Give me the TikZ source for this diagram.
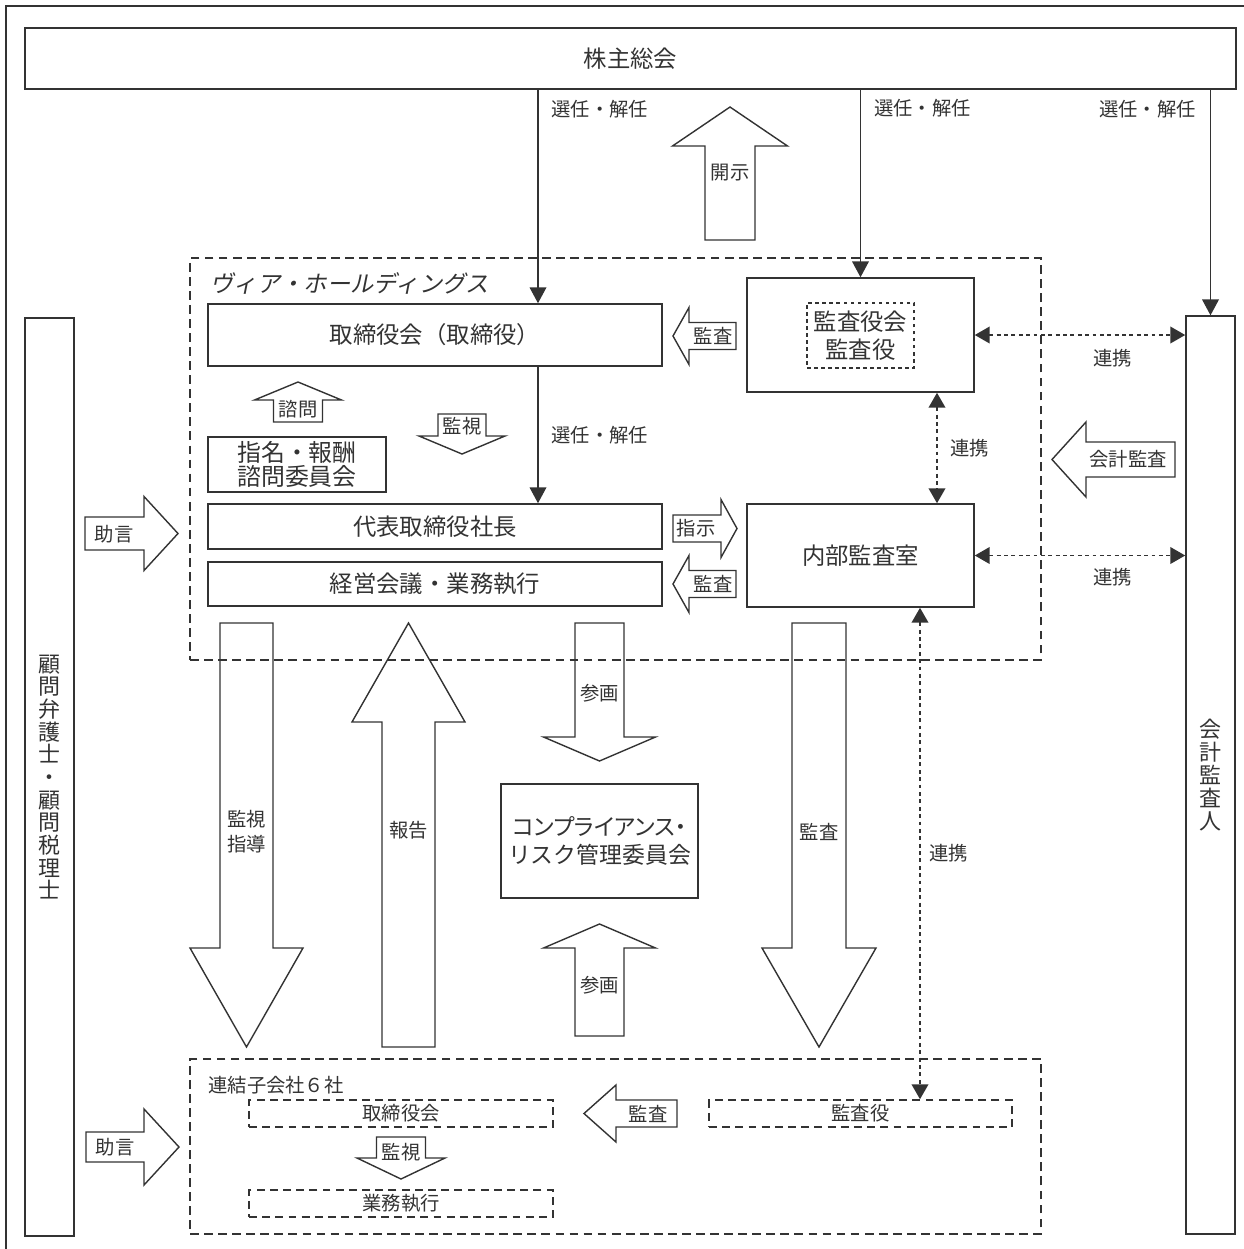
\documentclass[tikz,border=0pt]{standalone}
\usepackage{fontspec}
\setmainfont{Noto Sans CJK JP}
\newfontfamily\jpslant{Noto Sans CJK JP}[FakeSlant=0.2]
\usepackage{tikz}
\usetikzlibrary{arrows.meta,positioning}
\definecolor{ink}{gray}{0.2}
\newcommand{\bigjp}{\fontsize{13.3}{16}\selectfont}
\newcommand{\smalljp}{\fontsize{11}{14}\selectfont}
% block arrow: rotation, tail point, length, shaft half width, head half width, head length
\newcommand{\blockarr}[6]{%
  \draw[blk,shift={#2},rotate=#1] (0,-#4) -- ({#3-#6},-#4) -- ({#3-#6},-#5)
    -- (#3,0) -- ({#3-#6},#5) -- ({#3-#6},#4) -- (0,#4) -- cycle;}

\begin{document}
\begin{tikzpicture}[x=0.02cm,y=-0.02cm,color=ink,
  box/.style={draw,line width=0.9pt,inner sep=0pt,align=center,font=\bigjp},
  group/.style={draw,line width=0.9pt,dash pattern=on 5pt off 3pt},
  subbox/.style={draw,line width=0.9pt,dash pattern=on 4.5pt off 3pt,
    minimum width=6.08cm,minimum height=0.54cm,inner sep=0pt,font=\smalljp},
  blk/.style={draw,line width=0.8pt,line join=miter},
  lbl/.style={inner sep=0pt,font=\smalljp,align=center},
  sel/.style={-{Triangle[length=9pt,width=9.5pt]},line width=0.7pt},
  link/.style={{Triangle[length=8.5pt,width=9.5pt]}-{Triangle[length=8.5pt,width=9.5pt]},
    line width=1pt,dash pattern=on 2.2pt off 2pt}]
\useasboundingbox (0,0) rectangle (1244,1249);
\draw[line width=0.9pt] (6,1249) -- (6,6) -- (1244,6);

% groups
\node[group,minimum width=17.02cm,minimum height=8.04cm] (via) at (615.5,459) {};
\node[group,minimum width=17.02cm,minimum height=3.5cm] (subs) at (615.5,1146.5) {};
\node[anchor=west,inner sep=0pt,font={\jpslant\bigjp}] (viatitle) at (210,283)
  {ヴィア・ホールディングス};
\node[anchor=west,inner sep=0pt,font=\smalljp] (substitle) at (208,1085) {連結子会社６社};

% boxes
\node[box,minimum width=24.22cm,minimum height=1.22cm] (soukai) at (630.5,58.5) {株主総会};
\node[box,minimum width=0.98cm,minimum height=18.36cm,
      font={\fontsize{12.5}{12.9}\selectfont}] (komon) at (49.5,777)
  {顧\\問\\弁\\護\\士\\・\\顧\\問\\税\\理\\士};
\node[box,minimum width=0.98cm,minimum height=18.36cm,
      font={\fontsize{12.5}{13.15}\selectfont}] (auditor) at (1210.5,775)
  {会\\計\\監\\査\\人};
\node[box,minimum width=9.08cm,minimum height=1.24cm] (board) at (435,335) {取締役会（取締役）};
\node[box,minimum width=3.56cm,minimum height=1.1cm,
      font={\fontsize{13.6}{13.8}\selectfont}] (nomination) at (297,464.5)
  {指名・報酬\\諮問委員会};
\node[box,minimum width=9.08cm,minimum height=0.9cm] (president) at (435,526.5) {代表取締役社長};
\node[box,minimum width=9.08cm,minimum height=0.88cm] (mgmt) at (435,584) {経営会議・業務執行};
\node[box,minimum width=4.54cm,minimum height=2.28cm] (kansa) at (860.5,335) {};
\node[box,dash pattern=on 2pt off 2pt,minimum width=2.14cm,minimum height=1.3cm,
      font={\fontsize{13.3}{15.9}\selectfont}] (kansain) at (860.5,335.5)
  {監査役会\\監査役};
\node[box,minimum width=4.54cm,minimum height=2.06cm] (naibu) at (860.5,555.5) {内部監査室};
\node[box,minimum width=3.94cm,minimum height=2.28cm,
      font={\fontsize{13}{16.4}\selectfont}] (compliance) at (599.5,841)
  {{\addfontfeature{RawFeature=+palt}コンプライアンス・}\\リスク管理委員会};
\node[subbox] (subboard) at (401,1113.5) {取締役会};
\node[subbox] (subexec) at (401,1203.5) {業務執行};
\node[subbox,minimum width=6.06cm] (subaud) at (860.5,1113.5) {監査役};

% block arrows
\blockarr{90}{(730,240)}{133}{25}{57.5}{39}
\node[lbl] (kaiji) at (730,173) {開示};
\blockarr{90}{(298,422)}{40}{24.5}{43.5}{18}
\node[lbl] (shimon) at (298,409) {諮問};
\blockarr{-90}{(462,414)}{40}{24}{43}{18}
\node[lbl] (kanshi) at (462,426) {監視};
\blockarr{180}{(736,336)}{63}{13.5}{28.5}{16}
\node[lbl] (kansaA) at (713,336) {監査};
\blockarr{0}{(673,528.5)}{64}{13.5}{29}{16}
\node[lbl] (shiji) at (696,528.5) {指示};
\blockarr{180}{(736,584)}{63}{13.5}{28.5}{16}
\node[lbl] (kansaB) at (713,584) {監査};
\blockarr{180}{(1175,459.5)}{123}{17.5}{37.5}{34}
\node[lbl] (kaikei) at (1128,459.5) {会計監査};
\blockarr{0}{(85,533.5)}{93}{16.5}{37}{34}
\node[lbl] (jogenA) at (114,534) {助言};
\blockarr{0}{(86,1147)}{93}{15}{38}{35}
\node[lbl] (jogenB) at (115,1147) {助言};
\blockarr{-90}{(246.5,623)}{424}{26.5}{56.5}{99}
\node[lbl,font={\fontsize{11}{14.2}\selectfont}] (shidou) at (246.5,832) {監視\\指導};
\blockarr{90}{(408.5,1047)}{424}{26.5}{56.5}{99}
\node[lbl] (houkoku) at (408.5,830) {報告};
\blockarr{-90}{(599.5,623)}{138}{24.5}{56}{24}
\node[lbl] (sankakuA) at (599.5,693) {参画};
\blockarr{90}{(599.5,1036)}{112}{24.5}{56}{24}
\node[lbl] (sankakuB) at (599.5,985) {参画};
\blockarr{-90}{(819,623)}{424}{27}{57}{99}
\node[lbl] (kansaC) at (819,832) {監査};
\blockarr{180}{(677,1113.5)}{93}{13.5}{28.5}{32}
\node[lbl] (kansaD) at (648,1113.5) {監査};
\blockarr{-90}{(401,1137)}{42}{24.5}{44}{21}
\node[lbl] (kanshiB) at (401,1152) {監視};

% connectors
\coordinate (colA) at (538,0);
\coordinate (colB) at (937,0);
\coordinate (colC) at (920,0);
\draw[sel] (soukai.south -| colA) -- (board.north -| colA)
  node[lbl,pos=0.09,anchor=west,xshift=0.26cm] {選任・解任};
\draw[sel] (soukai.south -| kansa.north) -- (kansa.north)
  node[lbl,pos=0.1,anchor=west,xshift=0.26cm] {選任・解任};
\draw[sel] (soukai.south -| auditor.north) -- (auditor.north)
  node[lbl,pos=0.084,anchor=east,xshift=-0.28cm] {選任・解任};
\draw[sel] (board.south -| colA) -- (president.north -| colA)
  node[lbl,midway,anchor=west,xshift=0.26cm] {選任・解任};
\draw[link] (kansa.east) -- (kansa.east -| auditor.west)
  node[lbl,pos=0.656,yshift=-0.46cm] {連携};
\draw[link] (kansa.south -| colB) -- (naibu.north -| colB)
  node[lbl,midway,xshift=0.66cm] {連携};
\draw[link] (naibu.east) -- (naibu.east -| auditor.west)
  node[lbl,pos=0.656,yshift=-0.43cm] {連携};
\draw[link] (naibu.south -| colC) -- (subaud.north -| colC)
  node[lbl,midway,xshift=0.58cm] {連携};
\end{tikzpicture}
\end{document}
